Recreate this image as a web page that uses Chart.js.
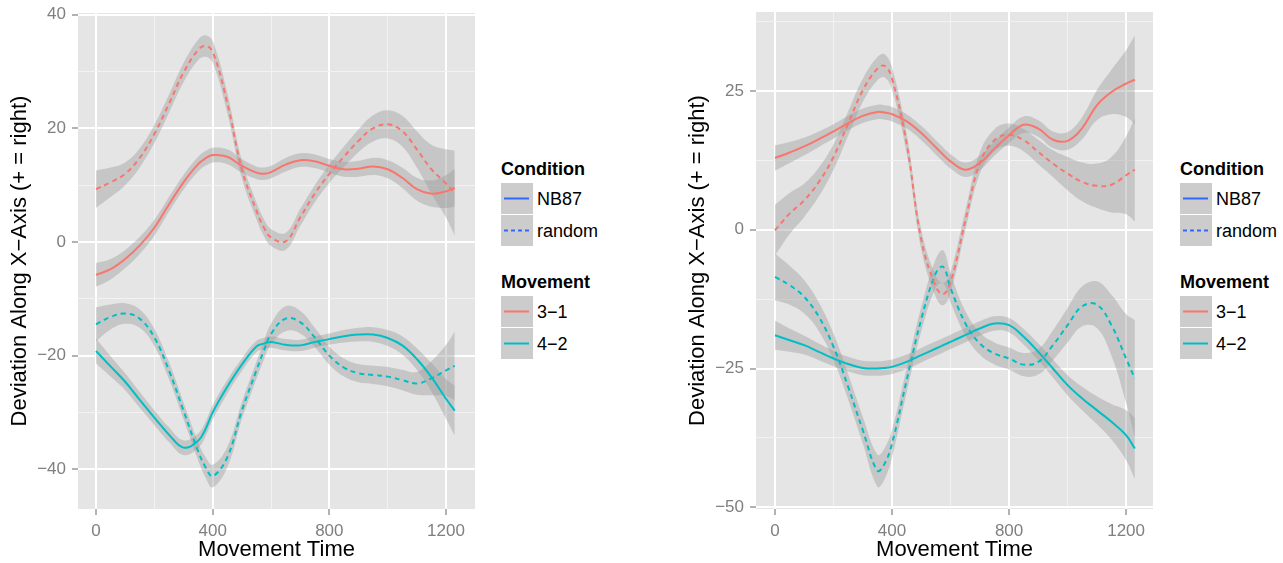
<!DOCTYPE html>
<html>
<head>
<meta charset="utf-8">
<script src="https://cdn.jsdelivr.net/npm/chart.js@4.4.1/dist/chart.umd.min.js"></script>
<style>
  body { margin: 0; background: #fff; width: 1283px; height: 563px; position: relative; overflow: hidden;
         font-family: "Liberation Sans", Arial, sans-serif; }
  .panel { position: absolute; top: 0; width: 480px; height: 563px; }
  .lg { position: absolute; font-size: 18px; line-height: 20px; color: #000; white-space: nowrap; }
  .lg.title { font-weight: bold; }
  .key { position: absolute; width: 32px; height: 31px; background: #cccccc; }
</style>
</head>
<body>
<div class="panel" style="left:0"><canvas id="chartA" width="480" height="563"></canvas></div>
<div class="panel" style="left:678px"><canvas id="chartB" width="480" height="563"></canvas></div>
<div id="legends"></div>
<script>
// movement time grid the curves were read at
var times = [0, 50, 100, 150, 200, 250, 300, 350, 375, 400, 450, 500, 550, 575, 600, 650, 700, 750, 800, 850, 900, 950, 1000, 1050, 1100, 1150, 1200, 1230];

// left panel
var leftNB87_31 = [-5.8, -4.8, -3.0, -0.6, 2.5, 6.6, 10.5, 13.7, 14.7, 15.3, 15.0, 13.4, 12.2, 12.0, 12.3, 13.6, 14.4, 14.2, 13.4, 12.8, 12.9, 13.3, 12.8, 11.3, 9.3, 8.5, 8.9, 9.5];
var leftNB87_31_se = [2.1, 1.8, 1.6, 1.5, 1.4, 1.3, 1.3, 1.3, 1.3, 1.3, 1.3, 1.2, 1.1, 1.1, 1.1, 1.2, 1.2, 1.2, 1.2, 1.3, 1.4, 1.5, 1.6, 1.8, 2.0, 2.3, 2.9, 3.3];
var leftRandom_31 = [9.3, 10.5, 12.0, 14.8, 19.0, 24.3, 29.8, 33.8, 34.5, 33.5, 24.5, 12.8, 5.5, 2.6, 0.8, 0.1, 4.3, 8.5, 12.0, 15.0, 17.8, 20.0, 20.7, 19.5, 16.3, 12.8, 10.3, 8.6];
var leftRandom_31_se = [3.3, 2.6, 2.0, 1.7, 1.6, 1.6, 1.7, 1.8, 1.9, 1.9, 1.8, 1.6, 1.5, 1.5, 1.5, 1.5, 1.5, 1.5, 1.6, 1.8, 2.0, 2.3, 2.5, 2.7, 3.2, 4.3, 6.0, 7.5];
var leftNB87_42 = [-19.2, -21.9, -24.6, -27.8, -30.9, -33.9, -36.2, -35.0, -33.0, -30.0, -25.5, -21.6, -18.4, -17.9, -17.6, -18.1, -18.2, -17.6, -17.1, -16.6, -16.3, -16.3, -16.9, -18.2, -20.6, -23.8, -27.6, -29.7];
var leftNB87_42_se = [2.2, 1.8, 1.5, 1.4, 1.3, 1.3, 1.3, 1.3, 1.3, 1.3, 1.2, 1.1, 1.0, 1.0, 1.0, 1.0, 1.0, 1.0, 1.0, 1.1, 1.2, 1.3, 1.4, 1.6, 1.9, 2.5, 3.5, 4.4];
var leftRandom_42 = [-14.5, -13.2, -12.6, -13.5, -16.8, -22.6, -29.7, -36.8, -39.6, -41.2, -37.9, -29.7, -22.6, -19.2, -16.2, -13.5, -14.1, -16.8, -20.0, -22.1, -23.1, -23.4, -23.7, -24.3, -24.9, -24.0, -22.6, -21.8];
var leftRandom_42_se = [3.0, 2.2, 1.8, 1.6, 1.5, 1.5, 1.5, 1.6, 1.8, 2.0, 1.8, 1.5, 1.5, 1.6, 1.8, 2.2, 2.0, 1.7, 1.6, 1.6, 1.6, 1.6, 1.7, 1.8, 2.0, 3.0, 4.5, 6.0];

// right panel
var rightNB87_31 = [12.9, 13.9, 15.0, 16.3, 17.7, 19.2, 20.5, 21.2, 21.1, 20.8, 19.5, 17.4, 14.8, 13.5, 12.3, 10.8, 12.0, 14.6, 17.0, 18.9, 18.2, 16.2, 16.0, 18.3, 22.4, 24.8, 26.3, 27.0];
var rightNB87_31_se = [2.3, 1.9, 1.6, 1.4, 1.3, 1.3, 1.3, 1.3, 1.3, 1.3, 1.3, 1.3, 1.3, 1.3, 1.3, 1.3, 1.3, 1.3, 1.4, 1.5, 1.5, 1.5, 1.6, 2.0, 2.7, 4.0, 6.0, 8.0];
var rightRandom_31 = [-0.1, 2.9, 5.3, 8.6, 13.1, 19.1, 25.1, 29.0, 29.5, 27.2, 15.5, -1.8, -10.3, -11.6, -9.5, 1.5, 12.0, 16.1, 17.1, 16.1, 14.0, 11.9, 10.1, 8.6, 7.9, 8.1, 9.8, 10.8];
var rightRandom_31_se = [4.6, 3.7, 3.0, 2.6, 2.3, 2.2, 2.1, 2.1, 2.1, 2.0, 1.8, 1.8, 1.9, 2.0, 1.9, 1.8, 1.9, 2.0, 2.0, 2.0, 2.2, 2.4, 3.0, 3.5, 4.0, 5.0, 7.0, 9.3];
var rightNB87_42 = [-19.0, -19.9, -20.8, -22.0, -23.2, -24.2, -24.9, -25.0, -24.9, -24.7, -23.8, -22.6, -21.4, -20.8, -20.2, -19.0, -17.8, -16.9, -17.2, -19.3, -22.0, -25.0, -28.0, -30.4, -32.5, -34.6, -37.0, -39.4];
var rightNB87_42_se = [2.6, 2.1, 1.7, 1.5, 1.4, 1.3, 1.3, 1.3, 1.3, 1.3, 1.3, 1.3, 1.3, 1.3, 1.3, 1.3, 1.3, 1.3, 1.3, 1.4, 1.5, 1.6, 1.8, 2.1, 2.5, 3.2, 4.5, 5.5];
var rightRandom_42 = [-8.5, -10.0, -12.1, -15.7, -21.1, -28.3, -36.1, -43.4, -42.1, -38.5, -27.1, -16.1, -7.8, -6.7, -10.5, -16.8, -20.5, -22.3, -23.2, -24.3, -23.8, -20.8, -17.2, -13.8, -13.5, -17.2, -23.2, -26.8];
var rightRandom_42_se = [4.2, 3.5, 3.0, 2.6, 2.4, 2.3, 2.4, 2.9, 2.8, 2.5, 2.2, 2.2, 2.6, 3.0, 2.6, 2.2, 2.0, 2.0, 2.0, 2.1, 2.3, 2.7, 3.1, 3.6, 4.2, 5.5, 8.0, 10.5];

// axis ticks
var xTicks = [0, 200, 400, 600, 800, 1000, 1200];
var xLabelled = [0, 400, 800, 1200];
var leftYTicks = [-40, -30, -20, -10, 0, 10, 20, 30, 40];
var leftYLabelled = [-40, -20, 0, 20, 40];
var rightYTicks = [-50, -37.5, -25, -12.5, 0, 12.5, 25, 37.5];
var rightYLabelled = [-50, -25, 0, 25];

// legend
var conditionLabels = ["NB87", "random"];
var movementLabels = ["3\u22121", "4\u22122"];

var RED = "#F8766D", CYAN = "#00BFC4", BLUE = "#3366FF";
var FONT = '"Liberation Sans", Arial, sans-serif';
Chart.defaults.font.family = FONT;

var panelBg = {
  id: "panelBg",
  beforeDraw: function (chart) {
    var a = chart.chartArea, ctx = chart.ctx;
    ctx.save();
    ctx.fillStyle = "#e5e5e5";
    ctx.fillRect(a.left, a.top, a.right - a.left, a.bottom - a.top);
    ctx.restore();
  }
};

function smooth(ys, se, color, dashed) {
  var up = times.map(function (t, i) { return { x: t, y: ys[i] + se[i] }; });
  var lo = times.map(function (t, i) { return { x: t, y: ys[i] - se[i] }; });
  var mid = times.map(function (t, i) { return { x: t, y: ys[i] }; });
  var common = { pointRadius: 0, tension: 0.4 };
  return [
    Object.assign({ data: up, borderColor: "transparent", borderWidth: 0, fill: false, order: 1 }, common),
    Object.assign({ data: lo, borderColor: "transparent", borderWidth: 0, fill: "-1",
                    backgroundColor: "rgba(153,153,153,0.4)", order: 1 }, common),
    Object.assign({ data: mid, borderColor: color, borderWidth: 2, borderDash: dashed ? [5, 4] : [],
                    fill: false, order: 0 }, common)
  ];
}

function fmt(v) { return String(v).replace("-", "\u2212"); }

function gridFor(labelled) {
  var major = function (c) { return c.tick && labelled.indexOf(c.tick.value) >= 0; };
  return {
    color: function (c) { return major(c) ? "#ffffff" : "#f2f2f2"; },
    lineWidth: function (c) { return major(c) ? 2 : 1; },
    tickColor: function (c) { return major(c) ? "#7f7f7f" : "rgba(0,0,0,0)"; },
    tickWidth: 1.2,
    tickLength: 6,
    drawTicks: true
  };
}

function makePanel(id, datasets, xMin, xMax, yMin, yMax, yTicks, yLabelled, top) {
  new Chart(document.getElementById(id), {
    type: "line",
    data: { datasets: datasets },
    options: {
      responsive: false,
      animation: false,
      layout: { padding: { top: top, right: 5, left: 0, bottom: 0 } },
      plugins: { legend: { display: false }, tooltip: { enabled: false } },
      scales: {
        x: {
          type: "linear", min: xMin, max: xMax,
          afterBuildTicks: function (s) { s.ticks = xTicks.map(function (v) { return { value: v }; }); },
          afterFit: function (s) { s.height = 54; s.paddingLeft = 0; s.paddingRight = 0; },
          ticks: {
            autoSkip: false, maxRotation: 0, padding: 6, color: "#7f7f7f", font: { size: 17 },
            callback: function (v) { return xLabelled.indexOf(v) >= 0 ? fmt(v) : ""; }
          },
          grid: gridFor(xLabelled),
          border: { display: false },
          title: { display: true, text: "Movement Time", color: "#000", font: { size: 22 }, padding: { top: 0, bottom: 0 } }
        },
        y: {
          type: "linear", min: yMin, max: yMax,
          afterBuildTicks: function (s) { s.ticks = yTicks.map(function (v) { return { value: v }; }); },
          afterFit: function (s) { s.width = 78; s.paddingTop = 0; s.paddingBottom = 0; },
          ticks: {
            autoSkip: false, padding: 6, color: "#7f7f7f", font: { size: 17 },
            callback: function (v) { return yLabelled.indexOf(v) >= 0 ? fmt(v) : ""; }
          },
          grid: gridFor(yLabelled),
          border: { display: false },
          title: { display: true, text: "Deviation Along X\u2212Axis (+ = right)", color: "#000",
                   font: { size: 22 }, padding: { top: 7, bottom: 0 } }
        }
      }
    },
    plugins: [panelBg]
  });
}

makePanel("chartA",
  [].concat(
    smooth(leftNB87_31, leftNB87_31_se, RED, false),
    smooth(leftRandom_31, leftRandom_31_se, RED, true),
    smooth(leftNB87_42, leftNB87_42_se, CYAN, false),
    smooth(leftRandom_42, leftRandom_42_se, CYAN, true)
  ), -61.7, 1299.4, -47.0, 40.3, leftYTicks, leftYLabelled, 13);

makePanel("chartB",
  [].concat(
    smooth(rightNB87_31, rightNB87_31_se, RED, false),
    smooth(rightRandom_31, rightRandom_31_se, RED, true),
    smooth(rightNB87_42, rightNB87_42_se, CYAN, false),
    smooth(rightRandom_42, rightRandom_42_se, CYAN, true)
  ), -65, 1292, -50.3, 39.2, rightYTicks, rightYLabelled, 12);

// ggplot-style legends beside each panel
function keyLine(color, dashed) {
  return '<svg width="32" height="31" style="position:absolute;left:0;top:0">' +
    '<line x1="3" y1="15.5" x2="28" y2="15.5" stroke="' + color + '" stroke-width="2"' +
    (dashed ? ' stroke-dasharray="4,3"' : '') + '/></svg>';
}

function buildLegend(left) {
  var html = "";
  var add = function (cls, x, y, inner) {
    html += '<div class="' + cls + '" style="left:' + (left + x) + 'px;top:' + y + 'px">' + inner + '</div>';
  };
  add("lg title", 0, 159, "Condition");
  conditionLabels.forEach(function (lab, i) {
    add("key", 0, 183 + i * 32, keyLine(BLUE, i === 1));
    add("lg", 36, 189 + i * 32, lab);
  });
  add("lg title", 0, 272, "Movement");
  movementLabels.forEach(function (lab, i) {
    add("key", 0, 296 + i * 32, keyLine(i === 0 ? RED : CYAN, false));
    add("lg", 36, 302 + i * 32, lab);
  });
  return html;
}

document.getElementById("legends").innerHTML = buildLegend(501) + buildLegend(1180);
</script>
</body>
</html>
